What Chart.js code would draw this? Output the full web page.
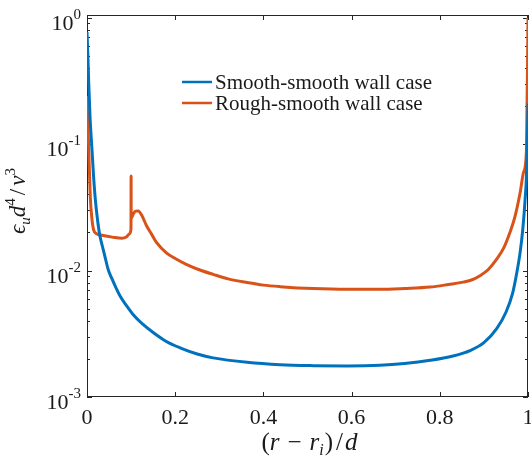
<!DOCTYPE html>
<html>
<head>
<meta charset="utf-8">
<script src="https://cdn.jsdelivr.net/npm/chart.js@4.4.1/dist/chart.umd.min.js"></script>
<style>
  html, body { margin: 0; padding: 0; background: #fff; }
</style>
</head>
<body>
<canvas id="myChart" width="531" height="457"></canvas>
<script>
// data
var smoothX = [0, 0.002, 0.0038, 0.007, 0.011, 0.015, 0.019, 0.024, 0.029, 0.035, 0.04, 0.048, 0.056, 0.065, 0.075, 0.09, 0.105, 0.125, 0.15, 0.18, 0.211, 0.25, 0.286, 0.363, 0.438, 0.513, 0.59, 0.664, 0.72, 0.778, 0.83, 0.87, 0.9, 0.929, 0.95, 0.965, 0.975, 0.982, 0.988, 0.993, 0.997, 1.0];
var smoothY = [0.77, 0.5, 0.31, 0.16, 0.094, 0.055, 0.036, 0.025, 0.019, 0.0155, 0.0132, 0.0102, 0.0087, 0.0074, 0.0063, 0.00525, 0.00447, 0.0038, 0.00324, 0.00275, 0.00245, 0.00219, 0.00204, 0.00188, 0.0018, 0.00177, 0.00176, 0.00178, 0.00184, 0.00195, 0.00211, 0.00234, 0.00269, 0.00347, 0.00468, 0.0066, 0.0098, 0.0138, 0.0209, 0.0347, 0.063, 0.209];

var roughX = [0, 0.0038, 0.0075, 0.011, 0.015, 0.022, 0.034, 0.06, 0.079, 0.09, 0.096, 0.0996, 0.0998, 0.1, 0.1002, 0.105, 0.11, 0.116, 0.125, 0.135, 0.146, 0.158, 0.18, 0.2, 0.225, 0.256, 0.286, 0.32, 0.363, 0.4, 0.438, 0.513, 0.59, 0.664, 0.72, 0.778, 0.82, 0.853, 0.875, 0.891, 0.91, 0.929, 0.945, 0.959, 0.97, 0.982, 0.99, 0.9965, 1.0];
var roughY = [0.24, 0.094, 0.038, 0.026, 0.021, 0.0195, 0.019, 0.0183, 0.018, 0.0185, 0.0195, 0.021, 0.024, 0.056, 0.026, 0.028, 0.0295, 0.0296, 0.027, 0.0226, 0.0195, 0.0166, 0.0138, 0.01245, 0.0112, 0.0101, 0.00933, 0.0086, 0.00804, 0.00767, 0.00746, 0.0072, 0.0071, 0.0071, 0.00721, 0.0074, 0.00776, 0.0081, 0.0085, 0.0091, 0.0102, 0.0123, 0.0151, 0.02, 0.0263, 0.041, 0.06, 0.089, 1.0];

var seriesLabels = ['Smooth-smooth wall case', 'Rough-smooth wall case'];

var xTicks = [0, 0.2, 0.4, 0.6, 0.8, 1];
var xTickLabels = ['0', '0.2', '0.4', '0.6', '0.8', '1'];
var yTicks = [0.001, 0.01, 0.1, 1];
var yTickExps = ['-3', '-2', '-1', '0'];

var SERIF = '"Liberation Serif", "DejaVu Serif", serif';
var AXIS = '#262626';

function toPoints(xs, ys) {
  return xs.map(function (x, i) { return { x: x, y: ys[i] }; });
}

// draw a row of text pieces (sub/superscripts) one after another
function drawRuns(ctx, runs, x, y, align) {
  var total = 0;
  runs.forEach(function (r) {
    ctx.font = r.font;
    r.w = ctx.measureText(r.t).width + (r.gap || 0) * 2;
    total += r.w;
  });
  var cx = align === 'right' ? x - total : (align === 'center' ? x - total / 2 : x);
  runs.forEach(function (r) {
    ctx.font = r.font;
    ctx.fillText(r.t, cx + (r.gap || 0), y + (r.dy || 0));
    cx += r.w;
  });
}

var framePlugin = {
  id: 'frame',
  // box + inward ticks go under the curves
  beforeDatasetsDraw: function (chart) {
    var ctx = chart.ctx;
    var a = chart.chartArea;
    var xs = chart.scales.x, ys = chart.scales.y;
    ctx.save();
    ctx.strokeStyle = AXIS;
    ctx.lineWidth = 1;
    ctx.strokeRect(a.left + 0.5, a.top + 0.5, a.right - a.left - 1, a.bottom - a.top - 1);

    ctx.beginPath();
    xTicks.forEach(function (v) {
      var px = Math.round(xs.getPixelForValue(v)) + 0.5;
      ctx.moveTo(px, a.bottom); ctx.lineTo(px, a.bottom - 5);
      ctx.moveTo(px, a.top); ctx.lineTo(px, a.top + 5);
    });
    // log ticks: major at decades, minor at 2..9
    for (var e = -3; e <= 0; e++) {
      for (var m = 1; m <= 9; m++) {
        var v = m * Math.pow(10, e);
        if (v > ys.max) break;
        var py = Math.round(ys.getPixelForValue(v)) + 0.5;
        var len = m === 1 ? 5 : 3;
        ctx.moveTo(a.left, py); ctx.lineTo(a.left + len, py);
        ctx.moveTo(a.right, py); ctx.lineTo(a.right - len, py);
      }
    }
    ctx.stroke();
    ctx.restore();
  },
  afterDatasetsDraw: function (chart) {
    var ctx = chart.ctx;
    var a = chart.chartArea;
    var xs = chart.scales.x, ys = chart.scales.y;
    ctx.save();
    ctx.fillStyle = '#1a1a1a';
    ctx.textAlign = 'left';
    ctx.textBaseline = 'alphabetic';

    // x tick labels
    xTicks.forEach(function (v, i) {
      drawRuns(ctx, [{ t: xTickLabels[i], font: '22px ' + SERIF }], xs.getPixelForValue(v), 424, 'center');
    });

    // y tick labels 10^n
    yTicks.forEach(function (v, i) {
      var py = ys.getPixelForValue(v);
      drawRuns(ctx, [
        { t: '10', font: '22px ' + SERIF },
        { t: yTickExps[i], font: '15px ' + SERIF, dy: -11 }
      ], 81, py + 12, 'right');
    });

    // x title
    var it = 'italic 25px ' + SERIF, up = '25px ' + SERIF;
    drawRuns(ctx, [
      { t: '(', font: up },
      { t: 'r', font: it },
      { t: '\u2212', font: up, gap: 8 },
      { t: 'r', font: it },
      { t: 'i', font: 'italic 16px ' + SERIF, dy: 5 },
      { t: ')', font: up, gap: 1 },
      { t: '/', font: up, gap: 2 },
      { t: 'd', font: it }
    ], (a.left + a.right) / 2 + 2, 450, 'center');

    // y title
    var it2 = 'italic 23px ' + SERIF, up2 = '23px ' + SERIF;
    ctx.translate(25, 201);
    ctx.rotate(-Math.PI / 2);
    drawRuns(ctx, [
      { t: '\u03f5', font: it2 },
      { t: 'u', font: 'italic 15px ' + SERIF, dy: 5 },
      { t: 'd', font: it2 },
      { t: '4', font: '15px ' + SERIF, dy: -10 },
      { t: '/', font: up2, gap: 3 },
      { t: '\u03bd', font: it2 },
      { t: '3', font: '15px ' + SERIF, dy: -10 }
    ], 0, 0, 'center');
    ctx.restore();

    // legend inside the axes
    ctx.save();
    chart.data.datasets.forEach(function (ds, i) {
      var ly = 82 + i * 21;
      ctx.strokeStyle = ds.borderColor;
      ctx.lineWidth = 2.5;
      ctx.beginPath();
      ctx.moveTo(182, ly); ctx.lineTo(212, ly);
      ctx.stroke();
      ctx.fillStyle = '#1a1a1a';
      ctx.font = '21px ' + SERIF;
      ctx.textAlign = 'left';
      ctx.textBaseline = 'alphabetic';
      ctx.fillText(ds.label, 215, ly + 7);
    });
    ctx.restore();
  }
};

var ctx = document.getElementById('myChart').getContext('2d');
var chart = new Chart(ctx, {
  type: 'line',
  data: {
    datasets: [
      {
        label: seriesLabels[0],
        data: toPoints(smoothX, smoothY),
        borderColor: '#0072BD',
        borderWidth: 3,
        pointRadius: 0,
        cubicInterpolationMode: 'monotone',
        fill: false
      },
      {
        label: seriesLabels[1],
        data: toPoints(roughX, roughY),
        borderColor: '#D95319',
        borderWidth: 3,
        pointRadius: 0,
        cubicInterpolationMode: 'monotone',
        fill: false
      }
    ]
  },
  options: {
    responsive: false,
    animation: false,
    layout: { padding: { top: 15, right: 3, left: 0, bottom: 0 } },
    plugins: { legend: { display: false }, tooltip: { enabled: false } },
    scales: {
      x: {
        type: 'linear', min: 0, max: 1,
        grid: { display: false }, border: { display: false },
        ticks: { display: false },
        afterFit: function (s) { s.height = 60; }
      },
      y: {
        type: 'logarithmic', min: 0.001, max: 1.05,
        grid: { display: false }, border: { display: false },
        ticks: { display: false },
        afterFit: function (s) { s.width = 87; }
      }
    }
  },
  plugins: [framePlugin]
});
</script>
</body>
</html>
